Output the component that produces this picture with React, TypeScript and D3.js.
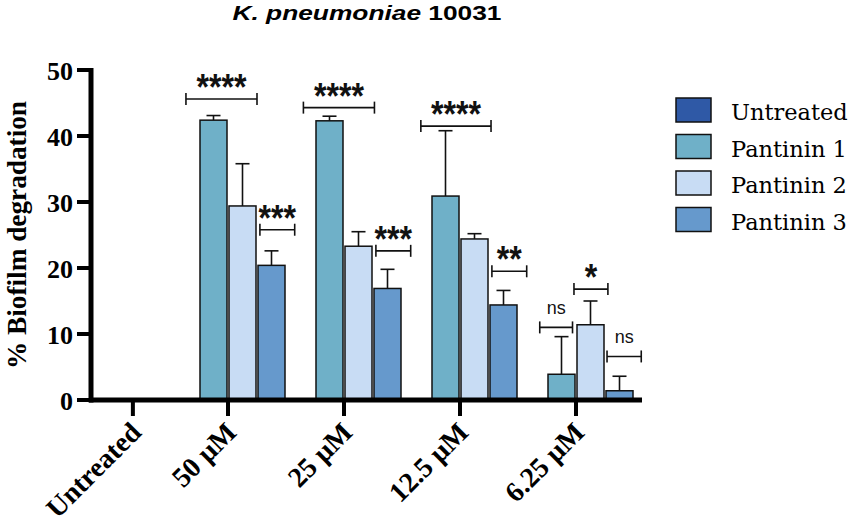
import * as d3 from "d3";

// groups and series
const groups = ["50 µM", "25 µM", "12.5 µM", "6.25 µM"];
const series = ["Untreated", "Pantinin 1", "Pantinin 2", "Pantinin 3"];
const untreatedLabel = "Untreated";
const untreatedValue = 0;

const p1Mean = [42.4, 42.3, 30.9, 3.9];
const p1Sd = [0.7, 0.7, 9.9, 5.7];
const p2Mean = [29.4, 23.3, 24.4, 11.4];
const p2Sd = [6.4, 2.2, 0.8, 3.6];
const p3Mean = [20.4, 16.9, 14.4, 1.4];
const p3Sd = [2.2, 2.9, 2.2, 2.2];

const yTicks = [0, 10, 20, 30, 40, 50];

// significance brackets: group index, label, from/to in bar slots, height
const sigGroup = [0, 0, 1, 1, 2, 2, 3, 3, 3];
const sigLabel = ["****", "***", "****", "***", "****", "**", "ns", "*", "ns"];
const sigFrom = [0.55, 3.1, 0.6, 3.1, 0.65, 3.1, 0.75, 1.93, 3.07];
const sigTo = [3.0, 4.3, 3.05, 4.3, 3.07, 4.3, 1.88, 3.1, 4.25];
const sigY = [45.6, 25.8, 44.3, 22.6, 41.5, 19.5, 11.0, 16.8, 6.6];

const colors = ["#2f59a6", "#6fb0c8", "#c8dcf4", "#6699cc"];
const ink = "#111";

export default function App() {
  const width = 851;
  const height = 523;
  const margin = { top: 70, left: 91, bottom: 123, right: 209 };

  const y = d3
    .scaleLinear()
    .domain([0, 50])
    .range([height - margin.bottom, margin.top]);

  const x = d3.scaleBand().domain(groups).range([170, 634]).padding(0);
  const xSub = d3.scaleBand().domain(series).range([0, x.bandwidth()]);
  const step = x.bandwidth();
  const slot = xSub.bandwidth();
  const untreatedX = (x(groups[0]) || 0) - step * 0.32;

  const values = [null, p1Mean, p2Mean, p3Mean];
  const sds = [null, p1Sd, p2Sd, p3Sd];

  const bars = groups.flatMap((g, gi) =>
    series.map((s, si) => ({
      g,
      s,
      si,
      value: values[si] ? values[si]![gi] : null,
      sd: sds[si] ? sds[si]![gi] : 0,
    }))
  ).filter((d) => d.value !== null);

  const y0 = y(0);
  const ticksX = [
    { label: untreatedLabel, x: untreatedX },
    ...groups.map((g) => ({ label: g, x: (x(g) || 0) + step / 2 })),
  ];

  const serif = "'Liberation Serif', 'Times New Roman', serif";
  const sans = "'Liberation Sans', Arial, sans-serif";

  return (
    <svg
      width={width}
      height={height}
      style={{ position: "absolute", left: 0, top: 0, background: "#fff" }}
    >
      {/* title */}
      <text
        x={367}
        y={20}
        textAnchor="middle"
        fontFamily={sans}
        fontWeight="bold"
        fontSize={21}
        textLength={269}
        lengthAdjust="spacingAndGlyphs"
      >
        <tspan fontStyle="italic">K. pneumoniae</tspan> 10031
      </text>

      {/* bars */}
      {bars.map((d, i) => {
        const bx = (x(d.g) || 0) + (xSub(d.s) || 0);
        const top = y(d.value as number);
        const cx = bx + slot / 2;
        const errTop = y((d.value as number) + d.sd);
        return (
          <g key={i}>
            <line x1={cx} x2={cx} y1={top} y2={errTop} stroke={ink} strokeWidth={1.6} />
            <line x1={cx - 7} x2={cx + 7} y1={errTop} y2={errTop} stroke={ink} strokeWidth={1.6} />
            <rect
              x={bx + 1}
              y={top}
              width={slot - 2}
              height={y0 - top}
              fill={colors[d.si]}
              stroke={ink}
              strokeWidth={1.5}
            />
          </g>
        );
      })}

      {/* untreated bar (zero) */}
      <rect
        x={untreatedX - slot / 2}
        y={y(untreatedValue)}
        width={slot}
        height={y0 - y(untreatedValue)}
        fill={colors[0]}
      />

      {/* significance brackets */}
      {sigLabel.map((lab, i) => {
        const gx = x(groups[sigGroup[i]]) || 0;
        const x1 = gx + sigFrom[i] * slot;
        const x2 = gx + sigTo[i] * slot;
        const yy = y(sigY[i]);
        const ns = lab === "ns";
        return (
          <g key={i} stroke={ink} strokeWidth={1.6}>
            <line x1={x1} x2={x2} y1={yy} y2={yy} />
            <line x1={x1} x2={x1} y1={yy - 6} y2={yy + 6} />
            <line x1={x2} x2={x2} y1={yy - 6} y2={yy + 6} />
            <text
              x={(x1 + x2) / 2}
              y={ns ? yy - 13 : yy + 1}
              textAnchor="middle"
              stroke="none"
              fill={ink}
              fontFamily={sans}
              fontWeight={ns ? "normal" : "bold"}
              fontSize={ns ? 18 : 36}
              {...(ns ? {} : { textLength: lab.length * 12.5, lengthAdjust: "spacingAndGlyphs" })}
            >
              {lab}
            </text>
          </g>
        );
      })}

      {/* y axis */}
      <line x1={margin.left} x2={margin.left} y1={y(50) - 2} y2={y0 + 2.5} stroke="#000" strokeWidth={5} />
      {yTicks.map((t) => (
        <g key={t}>
          <line x1={77} x2={margin.left} y1={y(t)} y2={y(t)} stroke="#000" strokeWidth={4} />
          <text
            x={73}
            y={y(t) + 10}
            textAnchor="end"
            fontFamily={serif}
            fontWeight="bold"
            fontSize={26}
          >
            {t}
          </text>
        </g>
      ))}
      <text
        transform={`translate(26,235) rotate(-90)`}
        textAnchor="middle"
        fontFamily={serif}
        fontWeight="bold"
        fontSize={27}
        textLength={268}
        lengthAdjust="spacingAndGlyphs"
      >
        % Biofilm degradation
      </text>

      {/* x axis */}
      <line x1={margin.left - 2} x2={642} y1={y0} y2={y0} stroke="#000" strokeWidth={5} />
      {ticksX.map((t) => (
        <g key={t.label}>
          <line x1={t.x} x2={t.x} y1={y0} y2={y0 + 16} stroke="#000" strokeWidth={4} />
          <text
            transform={`translate(${t.x + 10},${y0 + 34}) rotate(-45)`}
            textAnchor="end"
            fontFamily={serif}
            fontWeight="bold"
            fontSize={28}
          >
            {t.label}
          </text>
        </g>
      ))}

      {/* legend */}
      {series.map((s, i) => {
        const cy = 110 + i * 36.5;
        return (
          <g key={s}>
            <rect x={676} y={cy - 12} width={35} height={24} fill={colors[i]} stroke={ink} strokeWidth={1.5} />
            <text x={731} y={cy + 10} fontFamily="'DejaVu Serif', serif" fontSize={22.5}>
              {s}
            </text>
          </g>
        );
      })}
    </svg>
  );
}
